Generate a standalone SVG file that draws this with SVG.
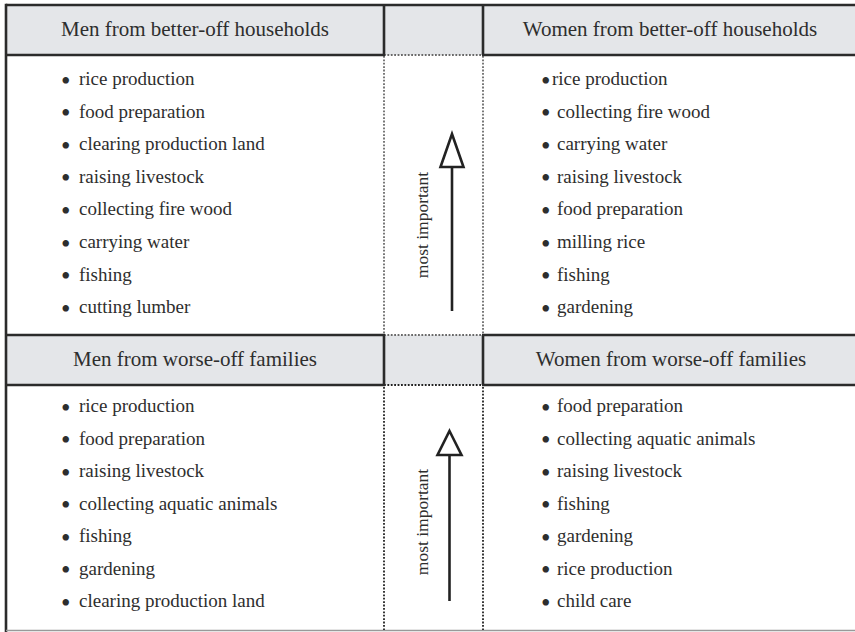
<svg xmlns="http://www.w3.org/2000/svg" width="855" height="632" viewBox="0 0 855 632">
<style>
.hdr{fill:#e4e6e9}
.thick{stroke:#2b2b2b;stroke-width:2.6;fill:none}
.dotg{stroke:#6a6a6a;stroke-width:1.8;stroke-dasharray:1.8 1.6;fill:none}
.dotk{stroke:#222;stroke-width:1.8;stroke-dasharray:1.8 1.6;fill:none}
.ht{font-family:"Liberation Serif","Times New Roman",serif;font-size:21px;fill:#2e2e2e;text-anchor:middle}
.it{font-family:"Liberation Serif","Times New Roman",serif;font-size:19px;fill:#2e2e2e}
.b{font-size:27px}
.lbl{font-family:"Liberation Serif","Times New Roman",serif;font-size:17.5px;fill:#2e2e2e;text-anchor:middle}
.arr{stroke:#222;stroke-width:2.6;fill:none}
.head{stroke:#222;stroke-width:2.6;fill:#fff;stroke-linejoin:miter}
</style>
<rect width="855" height="632" fill="#fff"/>
<rect class="hdr" x="6" y="5" width="849" height="50"/>
<rect class="hdr" x="6" y="335" width="849" height="50"/>
<line class="thick" x1="6" y1="5" x2="855" y2="5"/>
<line class="thick" x1="6" y1="3.7" x2="6" y2="632"/>
<line x1="6" y1="630.5" x2="855" y2="630.5" stroke="#999" stroke-width="1.5"/>
<g id="middle">
<line class="dotg" x1="384" y1="55" x2="483" y2="55"/>
<line class="dotg" x1="384" y1="56" x2="384" y2="335"/>
<line class="dotg" x1="483" y1="56" x2="483" y2="335"/>
<line class="dotg" x1="384" y1="335" x2="483" y2="335"/>
<line class="dotk" x1="384" y1="385" x2="483" y2="385"/>
<line class="dotk" x1="384" y1="387" x2="384" y2="630"/>
<line class="dotk" x1="483" y1="387" x2="483" y2="630"/>
</g>
<g id="men-better">
<line class="thick" x1="6" y1="55" x2="385" y2="55"/>
<line class="thick" x1="384" y1="5" x2="384" y2="55"/>
<text class="ht" x="195" y="36">Men from better-off households</text>
<text class="it" y="85"><tspan class="b" x="61" dy="4.5">•</tspan><tspan x="79" dy="-4.5">rice production</tspan></text>
<text class="it" y="117.6"><tspan class="b" x="61" dy="4.5">•</tspan><tspan x="79" dy="-4.5">food preparation</tspan></text>
<text class="it" y="150.2"><tspan class="b" x="61" dy="4.5">•</tspan><tspan x="79" dy="-4.5">clearing production land</tspan></text>
<text class="it" y="182.8"><tspan class="b" x="61" dy="4.5">•</tspan><tspan x="79" dy="-4.5">raising livestock</tspan></text>
<text class="it" y="215.4"><tspan class="b" x="61" dy="4.5">•</tspan><tspan x="79" dy="-4.5">collecting fire wood</tspan></text>
<text class="it" y="248"><tspan class="b" x="61" dy="4.5">•</tspan><tspan x="79" dy="-4.5">carrying water</tspan></text>
<text class="it" y="280.6"><tspan class="b" x="61" dy="4.5">•</tspan><tspan x="79" dy="-4.5">fishing</tspan></text>
<text class="it" y="313.2"><tspan class="b" x="61" dy="4.5">•</tspan><tspan x="79" dy="-4.5">cutting lumber</tspan></text>
</g>
<g id="women-better">
<line class="thick" x1="482" y1="55" x2="855" y2="55"/>
<line class="thick" x1="483" y1="5" x2="483" y2="55"/>
<text class="ht" x="670" y="36">Women from better-off households</text>
<text class="it" y="85"><tspan class="b" x="541" dy="4.5">•</tspan><tspan x="552" dy="-4.5">rice production</tspan></text>
<text class="it" y="117.6"><tspan class="b" x="541" dy="4.5">•</tspan><tspan x="557" dy="-4.5">collecting fire wood</tspan></text>
<text class="it" y="150.2"><tspan class="b" x="541" dy="4.5">•</tspan><tspan x="557" dy="-4.5">carrying water</tspan></text>
<text class="it" y="182.8"><tspan class="b" x="541" dy="4.5">•</tspan><tspan x="557" dy="-4.5">raising livestock</tspan></text>
<text class="it" y="215.4"><tspan class="b" x="541" dy="4.5">•</tspan><tspan x="557" dy="-4.5">food preparation</tspan></text>
<text class="it" y="248"><tspan class="b" x="541" dy="4.5">•</tspan><tspan x="557" dy="-4.5">milling rice</tspan></text>
<text class="it" y="280.6"><tspan class="b" x="541" dy="4.5">•</tspan><tspan x="557" dy="-4.5">fishing</tspan></text>
<text class="it" y="313.2"><tspan class="b" x="541" dy="4.5">•</tspan><tspan x="557" dy="-4.5">gardening</tspan></text>
</g>
<g id="men-worse">
<line class="thick" x1="6" y1="335" x2="385" y2="335"/>
<line class="thick" x1="6" y1="385" x2="385" y2="385"/>
<line class="thick" x1="384" y1="335" x2="384" y2="385"/>
<text class="ht" x="195" y="366">Men from worse-off families</text>
<text class="it" y="412"><tspan class="b" x="61" dy="4.5">•</tspan><tspan x="79" dy="-4.5">rice production</tspan></text>
<text class="it" y="444.5"><tspan class="b" x="61" dy="4.5">•</tspan><tspan x="79" dy="-4.5">food preparation</tspan></text>
<text class="it" y="477"><tspan class="b" x="61" dy="4.5">•</tspan><tspan x="79" dy="-4.5">raising livestock</tspan></text>
<text class="it" y="509.5"><tspan class="b" x="61" dy="4.5">•</tspan><tspan x="79" dy="-4.5">collecting aquatic animals</tspan></text>
<text class="it" y="542"><tspan class="b" x="61" dy="4.5">•</tspan><tspan x="79" dy="-4.5">fishing</tspan></text>
<text class="it" y="574.5"><tspan class="b" x="61" dy="4.5">•</tspan><tspan x="79" dy="-4.5">gardening</tspan></text>
<text class="it" y="607"><tspan class="b" x="61" dy="4.5">•</tspan><tspan x="79" dy="-4.5">clearing production land</tspan></text>
</g>
<g id="women-worse">
<line class="thick" x1="482" y1="335" x2="855" y2="335"/>
<line class="thick" x1="482" y1="385" x2="855" y2="385"/>
<line class="thick" x1="483" y1="335" x2="483" y2="385"/>
<text class="ht" x="671" y="366">Women from worse-off families</text>
<text class="it" y="412"><tspan class="b" x="541" dy="4.5">•</tspan><tspan x="557" dy="-4.5">food preparation</tspan></text>
<text class="it" y="444.5"><tspan class="b" x="541" dy="4.5">•</tspan><tspan x="557" dy="-4.5">collecting aquatic animals</tspan></text>
<text class="it" y="477"><tspan class="b" x="541" dy="4.5">•</tspan><tspan x="557" dy="-4.5">raising livestock</tspan></text>
<text class="it" y="509.5"><tspan class="b" x="541" dy="4.5">•</tspan><tspan x="557" dy="-4.5">fishing</tspan></text>
<text class="it" y="542"><tspan class="b" x="541" dy="4.5">•</tspan><tspan x="557" dy="-4.5">gardening</tspan></text>
<text class="it" y="574.5"><tspan class="b" x="541" dy="4.5">•</tspan><tspan x="557" dy="-4.5">rice production</tspan></text>
<text class="it" y="607"><tspan class="b" x="541" dy="4.5">•</tspan><tspan x="557" dy="-4.5">child care</tspan></text>
</g>
<g id="connectors">
<line class="arr" x1="452" y1="167" x2="452" y2="311"/>
<polygon class="head" points="452,134 463.5,167 440.5,167"/>
<text class="lbl" transform="translate(428,225) rotate(-90)">most important</text>
<line class="arr" x1="449.5" y1="455" x2="449.5" y2="601"/>
<polygon class="head" points="449.5,431 461.5,455 437.5,455"/>
<text class="lbl" transform="translate(428,522) rotate(-90)">most important</text>
</g>
</svg>
